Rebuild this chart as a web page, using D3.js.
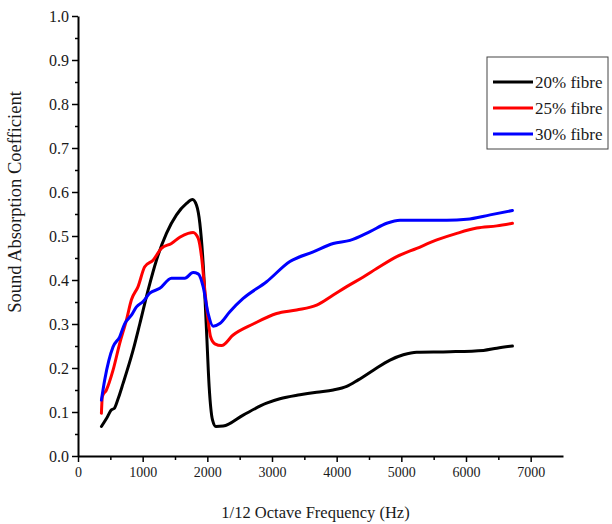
<!DOCTYPE html>
<meta charset="utf-8">
<style>
body { margin: 0; background: #fff; }
svg text { font-family: "Liberation Serif", "Times New Roman", serif; fill: #1a1a1a; }
.axis path, .axis line { stroke: #000; }
.axis path { stroke-width: 2px; }
.axis line { stroke-width: 1.5px; }
.line { fill: none; stroke-width: 3px; stroke-linejoin: round; stroke-linecap: round; }
</style>
<svg width="612" height="524"></svg>
<script src="https://d3js.org/d3.v7.min.js"></script>
<script>

var seriesNames = ["20% fibre", "25% fibre", "30% fibre"];
var seriesColors = ["#000000", "#ff0000", "#0000ff"];

// 20% fibre
var freq20 = [362, 440, 517, 560, 620, 697, 851, 955, 1084, 1213, 1368, 1523, 1678, 1771, 1833, 1884, 1935, 1987, 2028, 2080, 2132, 2245, 2554, 2916, 3122, 3432, 3690, 3947, 4155, 4334, 4567, 4825, 5031, 5238, 5754, 6269, 6477, 6718];
var abs20 = [0.067, 0.085, 0.105, 0.108, 0.13, 0.165, 0.24, 0.30, 0.377, 0.445, 0.506, 0.548, 0.574, 0.583, 0.57, 0.529, 0.438, 0.286, 0.158, 0.082, 0.067, 0.068, 0.093, 0.12, 0.13, 0.139, 0.145, 0.15, 0.158, 0.173, 0.195, 0.218, 0.23, 0.236, 0.237, 0.24, 0.245, 0.25];

// 25% fibre
var freq25 = [362, 377, 439, 542, 645, 749, 826, 929, 1032, 1161, 1290, 1445, 1574, 1703, 1780, 1858, 1910, 1961, 2012, 2050, 2116, 2219, 2399, 2709, 3071, 3380, 3690, 3947, 4155, 4412, 4619, 4929, 5238, 5548, 5858, 6167, 6477, 6718];
var abs25 = [0.097, 0.135, 0.15, 0.195, 0.256, 0.309, 0.355, 0.385, 0.43, 0.445, 0.472, 0.483, 0.497, 0.506, 0.508, 0.495, 0.453, 0.377, 0.309, 0.271, 0.255, 0.251, 0.275, 0.30, 0.324, 0.332, 0.343, 0.366, 0.385, 0.407, 0.426, 0.453, 0.472, 0.491, 0.506, 0.518, 0.523, 0.529];

// 30% fibre
var freq30 = [362, 413, 542, 645, 723, 826, 904, 1006, 1110, 1265, 1445, 1652, 1780, 1858, 1935, 2012, 2090, 2193, 2348, 2554, 2916, 3277, 3638, 3947, 4206, 4515, 4774, 4980, 5703, 6012, 6373, 6718];
var abs30 = [0.127, 0.173, 0.248, 0.271, 0.301, 0.32, 0.339, 0.351, 0.37, 0.381, 0.404, 0.404, 0.417, 0.414, 0.385, 0.324, 0.295, 0.301, 0.328, 0.358, 0.396, 0.442, 0.464, 0.483, 0.49, 0.51, 0.529, 0.536, 0.536, 0.538, 0.548, 0.558];

var xTicks = [0, 1000, 2000, 3000, 4000, 5000, 6000, 7000];
var yTicks = [0, 0.1, 0.2, 0.3, 0.4, 0.5, 0.6, 0.7, 0.8, 0.9, 1.0];

var svg = d3.select("svg"),
    margin = {top: 16, right: 49, bottom: 68, left: 78},
    width = +svg.attr("width") - margin.left - margin.right,
    height = +svg.attr("height") - margin.top - margin.bottom;

var x = d3.scaleLinear().domain([0, 7500]).range([0, width]),
    y = d3.scaleLinear().domain([0, 1]).range([height, 0]);

var g = svg.append("g")
    .attr("transform", "translate(" + margin.left + "," + margin.top + ")");

// minor ticks
g.append("g")
    .attr("class", "axis")
    .attr("transform", "translate(0," + height + ")")
    .call(d3.axisBottom(x).tickValues(d3.range(500, 7500, 1000)).tickSize(4).tickFormat(""))
    .select(".domain").remove();
g.append("g")
    .attr("class", "axis")
    .call(d3.axisLeft(y).tickValues(d3.range(0.05, 1, 0.1)).tickSize(3).tickFormat(""))
    .select(".domain").remove();

var xAxis = g.append("g")
    .attr("class", "axis")
    .attr("transform", "translate(0," + height + ")")
    .call(d3.axisBottom(x).tickValues(xTicks).tickSize(6).tickSizeOuter(0).tickPadding(5).tickFormat(d3.format("d")));
xAxis.selectAll("text").style("font-size", "14px").attr("fill", "#1a1a1a");

var yAxis = g.append("g")
    .attr("class", "axis")
    .call(d3.axisLeft(y).tickValues(yTicks).tickSize(6).tickSizeOuter(0).tickPadding(3).tickFormat(d3.format(".1f")));
yAxis.selectAll("text").style("font-size", "16px").attr("fill", "#1a1a1a");

// axis titles
g.append("text")
    .attr("x", width / 2 - 5)
    .attr("y", height + 62)
    .style("text-anchor", "middle")
    .style("font-size", "16.5px")
    .text("1/12 Octave Frequency (Hz)");

g.append("text")
    .attr("transform", "rotate(-90)")
    .attr("x", -186)
    .attr("y", -57)
    .style("text-anchor", "middle")
    .style("font-size", "18.5px")
    .text("Sound Absorption Coefficient");

var series = [
  {name: seriesNames[0], color: seriesColors[0], f: freq20, v: abs20},
  {name: seriesNames[1], color: seriesColors[1], f: freq25, v: abs25},
  {name: seriesNames[2], color: seriesColors[2], f: freq30, v: abs30}
];

var line = d3.line()
    .x(function(d) { return x(d[0]); })
    .y(function(d) { return y(d[1]); })
    .curve(d3.curveMonotoneX);

g.selectAll(".line")
  .data(series)
  .enter().append("path")
    .attr("class", "line")
    .attr("stroke", function(d) { return d.color; })
    .attr("d", function(d) { return line(d3.zip(d.f, d.v)); });

// legend
var legend = svg.append("g").attr("transform", "translate(487,57)");
legend.append("rect")
    .attr("width", 121)
    .attr("height", 92)
    .attr("fill", "#fff")
    .attr("stroke", "#444")
    .attr("stroke-width", 1);

var item = legend.selectAll(".item")
  .data(series)
  .enter().append("g")
    .attr("class", "item")
    .attr("transform", function(d, i) { return "translate(0," + (25 + i * 26) + ")"; });

item.append("line")
    .attr("x1", 6).attr("x2", 46)
    .attr("stroke", function(d) { return d.color; })
    .attr("stroke-width", 3);

item.append("text")
    .attr("x", 48)
    .attr("dy", "0.35em")
    .style("font-size", "17px")
    .text(function(d) { return d.name; });

</script>
